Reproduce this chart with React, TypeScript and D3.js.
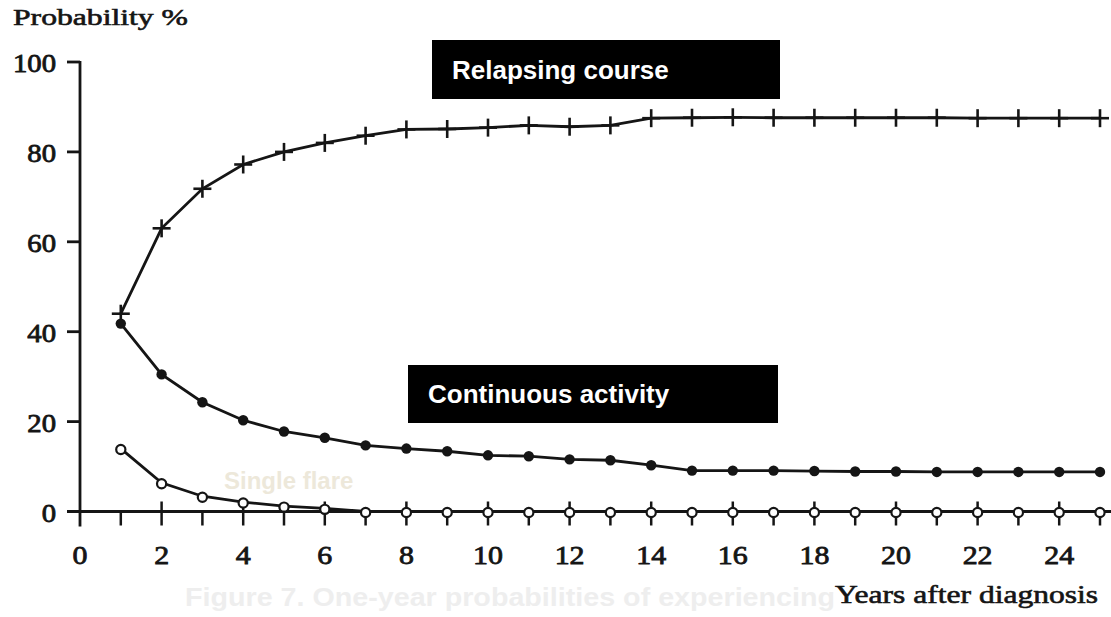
import React, { useEffect, useRef } from 'react';
import * as d3 from 'd3';

const years = d3.range(1, 26);

// Relapsing course (plus markers)
const relapsing = [44, 63, 71.8, 77.2, 80, 82, 83.6, 85, 85.1, 85.4, 85.9, 85.6, 85.9, 87.5, 87.6, 87.7, 87.6, 87.6, 87.6, 87.6, 87.6, 87.5, 87.5, 87.5, 87.5];
// Continuous activity (filled dots)
const continuous = [41.8, 30.5, 24.3, 20.3, 17.8, 16.4, 14.7, 14, 13.4, 12.5, 12.3, 11.6, 11.4, 10.3, 9.1, 9.1, 9.1, 9, 8.9, 8.9, 8.8, 8.8, 8.8, 8.8, 8.8];
// Single flare (open circles)
const singleFlare = [14, 6.4, 3.4, 2.1, 1.2, 0.7, 0, 0, 0, 0, 0, 0, 0, 0, 0, 0, 0, 0, 0, 0, 0, 0, 0, 0, 0];

const yTicks = [0, 20, 40, 60, 80, 100];
const xTickLabels = [0, 2, 4, 6, 8, 10, 12, 14, 16, 18, 20, 22, 24];

const serif = '"Liberation Serif", "DejaVu Serif", serif';
const sans = '"Liberation Sans", Arial, sans-serif';
const ink = '#151515';
const stretch = 1.15; // the scan is a bit wider than it is tall

const App = () => {
  const svgRef = useRef<SVGSVGElement>(null);

  useEffect(() => {
    const svg = d3.select(svgRef.current);
    svg.selectAll('*').remove();

    const x = d3.scaleLinear().domain([0, 25]).range([80, 1100]);
    const y = d3.scaleLinear().domain([0, 100]).range([511.5, 62]);

    // faint bleed-through caption from the scanned page
    svg.append('text')
      .attr('x', 185)
      .attr('y', 606)
      .attr('textLength', 650)
      .attr('lengthAdjust', 'spacingAndGlyphs')
      .style('font-family', sans)
      .style('font-size', '26px')
      .style('font-weight', 'bold')
      .attr('fill', '#eeeeee')
      .text('Figure 7. One-year probabilities of experiencing');

    // Y axis
    svg.append('line')
      .attr('x1', x(0)).attr('x2', x(0))
      .attr('y1', y(100) - 1).attr('y2', y(0) + 15)
      .attr('stroke', ink).attr('stroke-width', 2.8);
    svg.selectAll('.ytick')
      .data(yTicks)
      .enter()
      .append('line')
        .attr('x1', x(0) - 13).attr('x2', x(0))
        .attr('y1', d => y(d)).attr('y2', d => y(d))
        .attr('stroke', ink).attr('stroke-width', 2.8);
    svg.selectAll('.ylabel')
      .data(yTicks)
      .enter()
      .append('text')
        .attr('transform', d => `translate(56,${y(d) + 10}) scale(${stretch},1)`)
        .attr('text-anchor', 'end')
        .style('font-family', serif)
        .style('font-size', '25px')
        .attr('fill', ink)
        .attr('stroke', ink)
        .attr('stroke-width', 0.8)
        .text(d => d);

    // X axis
    svg.append('line')
      .attr('x1', x(0) - 13).attr('x2', 1111)
      .attr('y1', y(0)).attr('y2', y(0))
      .attr('stroke', ink).attr('stroke-width', 2.8);
    svg.selectAll('.xtick')
      .data(d3.range(1, 26))
      .enter()
      .append('line')
        .attr('x1', d => x(d)).attr('x2', d => x(d))
        .attr('y1', d => (d % 2 === 0 ? y(0) - 10 : y(0)))
        .attr('y2', y(0) + 14)
        .attr('stroke', ink).attr('stroke-width', 2.5);
    svg.selectAll('.xlabel')
      .data(xTickLabels)
      .enter()
      .append('text')
        .attr('transform', d => `translate(${x(d)},564) scale(${stretch},1)`)
        .attr('text-anchor', 'middle')
        .style('font-family', serif)
        .style('font-size', '26px')
        .attr('fill', ink)
        .attr('stroke', ink)
        .attr('stroke-width', 0.8)
        .text(d => d);

    // Axis titles
    svg.append('text')
      .attr('x', 13).attr('y', 25)
      .attr('textLength', 175)
      .attr('lengthAdjust', 'spacingAndGlyphs')
      .style('font-family', serif)
      .style('font-size', '23px')
      .attr('fill', ink)
      .attr('stroke', ink)
      .attr('stroke-width', 0.6)
      .text('Probability %');
    svg.append('text')
      .attr('x', 835).attr('y', 603)
      .attr('textLength', 263)
      .attr('lengthAdjust', 'spacingAndGlyphs')
      .style('font-family', serif)
      .style('font-size', '25px')
      .attr('fill', ink)
      .attr('stroke', ink)
      .attr('stroke-width', 0.6)
      .text('Years after diagnosis');

    const line = d3.line<number>()
      .x((d, i) => x(years[i]))
      .y(d => y(d));

    // Lines
    [relapsing, continuous, singleFlare].forEach(series => {
      svg.append('path')
        .datum(series)
        .attr('d', line)
        .attr('fill', 'none')
        .attr('stroke', ink)
        .attr('stroke-width', 2.8);
    });

    // Plus markers
    const plus = svg.selectAll('.plus')
      .data(relapsing)
      .enter()
      .append('g')
        .attr('transform', (d, i) => `translate(${x(years[i])},${y(d)})`);
    plus.append('line')
      .attr('x1', -9).attr('x2', 9).attr('y1', 0).attr('y2', 0)
      .attr('stroke', ink).attr('stroke-width', 2.6);
    plus.append('line')
      .attr('x1', 0).attr('x2', 0).attr('y1', -9).attr('y2', 9)
      .attr('stroke', ink).attr('stroke-width', 2.6);

    // Filled dots
    svg.selectAll('.dot')
      .data(continuous)
      .enter()
      .append('circle')
        .attr('cx', (d, i) => x(years[i]))
        .attr('cy', d => y(d))
        .attr('r', 5.2)
        .attr('fill', ink);

    // Open circles
    svg.selectAll('.ring')
      .data(singleFlare)
      .enter()
      .append('circle')
        .attr('cx', (d, i) => x(years[i]))
        .attr('cy', d => y(d) + 1)
        .attr('r', 4.6)
        .attr('fill', '#fff')
        .attr('stroke', ink)
        .attr('stroke-width', 2.2);

    // Label boxes
    const boxes = [
      { label: 'Relapsing course', x: 432, y: 40, w: 348, h: 59 },
      { label: 'Continuous activity', x: 408, y: 365, w: 370, h: 58 },
    ];
    boxes.forEach(b => {
      svg.append('rect')
        .attr('x', b.x).attr('y', b.y)
        .attr('width', b.w).attr('height', b.h)
        .attr('fill', '#000');
      svg.append('text')
        .attr('x', b.x + 20)
        .attr('y', b.y + b.h / 2 + 9)
        .style('font-family', sans)
        .style('font-size', '26px')
        .style('font-weight', 'bold')
        .attr('fill', '#fff')
        .text(b.label);
    });

    svg.append('text')
      .attr('x', 224).attr('y', 489)
      .style('font-family', sans)
      .style('font-size', '24px')
      .style('font-weight', 'bold')
      .attr('fill', '#ede8da')
      .text('Single flare');
  }, []);

  return (
    <div style={{ position: 'fixed', top: 0, left: 0 }}>
      <svg ref={svgRef} width={1111} height={617} style={{ display: 'block', background: '#fff' }}></svg>
    </div>
  );
};

export default App;
